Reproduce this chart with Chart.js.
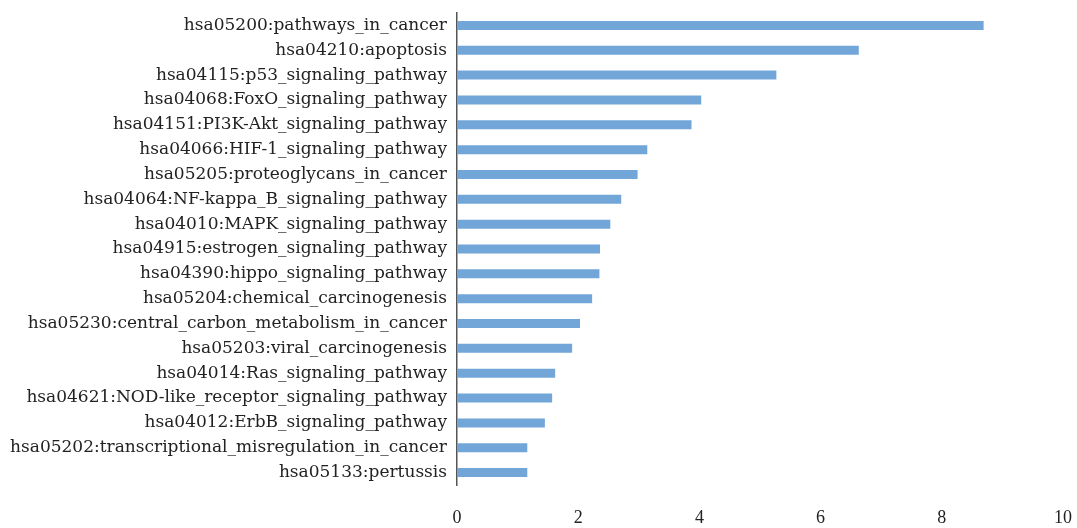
<!DOCTYPE html>
<html>
<head>
<meta charset="utf-8">
<script src="https://cdn.jsdelivr.net/npm/chart.js@4"></script>
<style>
  html, body { margin: 0; padding: 0; background: #ffffff; }
  #wrap { width: 1077px; height: 528px; }
</style>
</head>
<body>
<div id="wrap"><canvas id="c" width="1077" height="528"></canvas></div>
<script>
const categories = [
  "hsa05200:pathways_in_cancer",
  "hsa04210:apoptosis",
  "hsa04115:p53_signaling_pathway",
  "hsa04068:FoxO_signaling_pathway",
  "hsa04151:PI3K-Akt_signaling_pathway",
  "hsa04066:HIF-1_signaling_pathway",
  "hsa05205:proteoglycans_in_cancer",
  "hsa04064:NF-kappa_B_signaling_pathway",
  "hsa04010:MAPK_signaling_pathway",
  "hsa04915:estrogen_signaling_pathway",
  "hsa04390:hippo_signaling_pathway",
  "hsa05204:chemical_carcinogenesis",
  "hsa05230:central_carbon_metabolism_in_cancer",
  "hsa05203:viral_carcinogenesis",
  "hsa04014:Ras_signaling_pathway",
  "hsa04621:NOD-like_receptor_signaling_pathway",
  "hsa04012:ErbB_signaling_pathway",
  "hsa05202:transcriptional_misregulation_in_cancer",
  "hsa05133:pertussis"
];
const values = [8.69, 6.63, 5.27, 4.03, 3.87, 3.14, 2.98, 2.71, 2.53, 2.36, 2.35, 2.23, 2.03, 1.90, 1.62, 1.57, 1.45, 1.16, 1.16];
const xTicks = [0, 2, 4, 6, 8, 10];

new Chart(document.getElementById('c'), {
  type: 'bar',
  data: {
    labels: categories,
    datasets: [{
      data: values,
      backgroundColor: '#72A6D8',
      borderWidth: 0,
      categoryPercentage: 1.0,
      barPercentage: 0.362
    }]
  },
  options: {
    indexAxis: 'y',
    responsive: false,
    animation: false,
    layout: { padding: { top: 13, right: 14, left: 0, bottom: 0 } },
    plugins: { legend: { display: false }, tooltip: { enabled: false } },
    scales: {
      x: {
        min: 0, max: 10,
        afterBuildTicks: (s) => { s.ticks = xTicks.map(v => ({ value: v })); },
        grid: { display: false, drawTicks: false },
        border: { display: false },
        ticks: {
          padding: 22,
          color: '#222222',
          font: { family: 'Liberation Serif', size: 18 }
        },
        afterFit: (s) => { s.height = 43; s.paddingLeft = 0; s.paddingRight = 0; }
      },
      y: {
        grid: { display: false, drawTicks: false },
        border: { display: true, color: '#555555', width: 1.5 },
        ticks: {
          padding: 10,
          color: '#222222',
          font: { family: 'DejaVu Serif', size: 17 }
        },
        afterFit: (s) => { s.width = 457; s.paddingTop = 0; s.paddingBottom = 0; }
      }
    }
  }
});
</script>
</body>
</html>
